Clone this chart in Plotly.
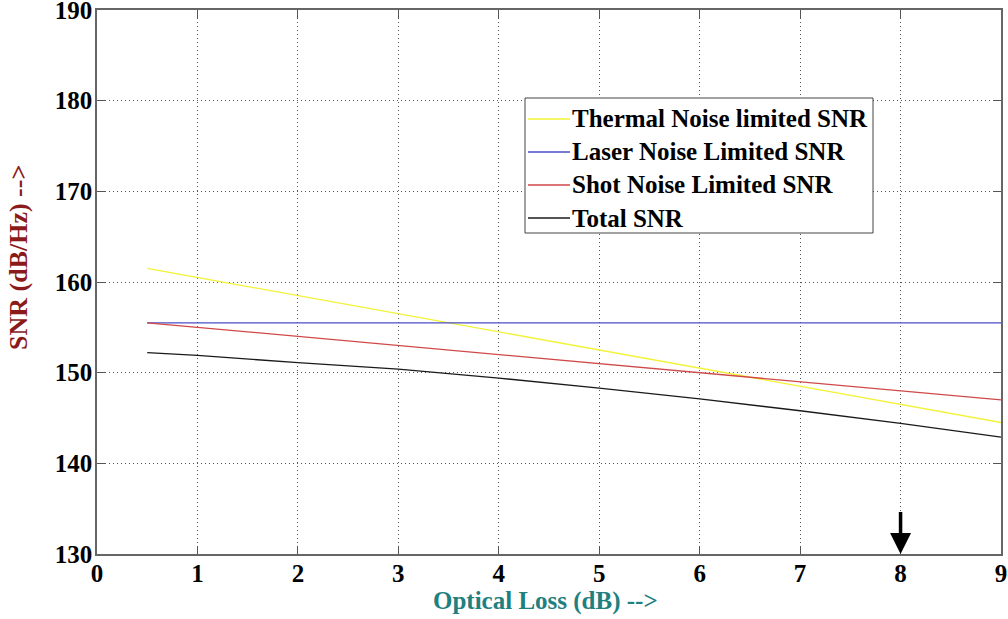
import plotly.graph_objects as go

loss = [0.5, 1, 2, 3, 4, 5, 6, 7, 8, 9]
thermal = [161.5, 160.5, 158.5, 156.5, 154.5, 152.5, 150.5, 148.5, 146.5, 144.5]
laser = [155.5, 155.5, 155.5, 155.5, 155.5, 155.5, 155.5, 155.5, 155.5, 155.5]
shot = [155.5, 155.0, 154.0, 153.0, 152.0, 151.0, 150.0, 149.0, 148.0, 147.0]
total = [152.2, 151.9, 151.1, 150.4, 149.4, 148.3, 147.1, 145.8, 144.4, 142.9]

x_ticks = [0, 1, 2, 3, 4, 5, 6, 7, 8, 9]
y_ticks = [130, 140, 150, 160, 170, 180, 190]

names = ["Thermal Noise limited SNR", "Laser Noise Limited SNR",
         "Shot Noise Limited SNR", "Total SNR"]
colors = ["#f2f236", "#4c4cc8", "#d04848", "#1a1a1a"]
series = [thermal, laser, shot, total]

W, H = 1008, 619
ML, MR, MT, MB = 97, 7, 10, 65
PW, PH = W - ML - MR, H - MT - MB


def px_x(p):
    return (p - ML) / PW


def px_y(p):
    return (H - MB - p) / PH


fig = go.Figure()
for n, c, s in zip(names, colors, series):
    fig.add_trace(go.Scatter(x=loss, y=s, mode="lines", name=n,
                             line=dict(color=c, width=1.3), showlegend=False))

font_serif = "Liberation Serif, Times New Roman, serif"
axis_common = dict(
    showline=True, linecolor="#666666", linewidth=1.5, mirror="ticks",
    ticks="inside", ticklen=8, tickcolor="#555555", tickwidth=1,
    showgrid=True, gridcolor="#555555", griddash="1px,3px", gridwidth=1,
    zeroline=False, ticklabeloverflow="allow", automargin=False,
    tickfont=dict(family=font_serif, size=25, color="black", weight="bold"),
)

fig.update_layout(
    width=W, height=H,
    margin=dict(l=ML, r=MR, t=MT, b=MB, autoexpand=False),
    paper_bgcolor="white", plot_bgcolor="white",
    font=dict(family=font_serif),
    xaxis=dict(range=[0, 9], tickvals=x_ticks, ticklabelstandoff=-4, **axis_common),
    yaxis=dict(range=[130, 190], tickvals=y_ticks, ticklabelstandoff=-2, **axis_common),
    showlegend=False,
)

# legend box (drawn manually to match the reference's compact layout)
fig.add_shape(type="rect", xref="paper", yref="paper",
              x0=px_x(525), x1=px_x(873), y0=px_y(233), y1=px_y(98),
              line=dict(color="#444444", width=1), fillcolor="white", layer="above")
for i, (n, c) in enumerate(zip(names, colors)):
    yy = 119 + 33 * i
    fig.add_shape(type="line", xref="paper", yref="paper",
                  x0=px_x(528), x1=px_x(570), y0=px_y(yy), y1=px_y(yy),
                  line=dict(color=c, width=1.3), layer="above")
    fig.add_annotation(text="<b>" + n + "</b>", xref="paper", yref="paper",
                       x=px_x(570), y=px_y(yy), xanchor="left", yanchor="middle",
                       showarrow=False,
                       font=dict(family=font_serif, size=25, color="black"))

fig.add_annotation(text="<b>Optical Loss (dB) --></b>", xref="paper", yref="paper",
                   x=px_x(545), y=px_y(601), xanchor="center", yanchor="middle",
                   showarrow=False,
                   font=dict(family=font_serif, size=25, color="#1f8080"))
fig.add_annotation(text="<b>SNR (dB/Hz) --></b>", xref="paper", yref="paper",
                   x=px_x(18), y=px_y(258), xanchor="center", yanchor="middle",
                   textangle=-90, showarrow=False,
                   font=dict(family=font_serif, size=26, color="#8b1a1a"))
fig.add_annotation(x=8, y=130, ax=8, ay=134.8, xref="x", yref="y",
                   axref="x", ayref="y", text="", showarrow=True,
                   arrowhead=2, arrowsize=1.2, arrowwidth=3.5, arrowcolor="black")

fig.write_html(
    "out.html",
    config={"displayModeBar": False},
    post_script="document.body.style.margin='0';document.body.style.overflow='hidden';",
)
